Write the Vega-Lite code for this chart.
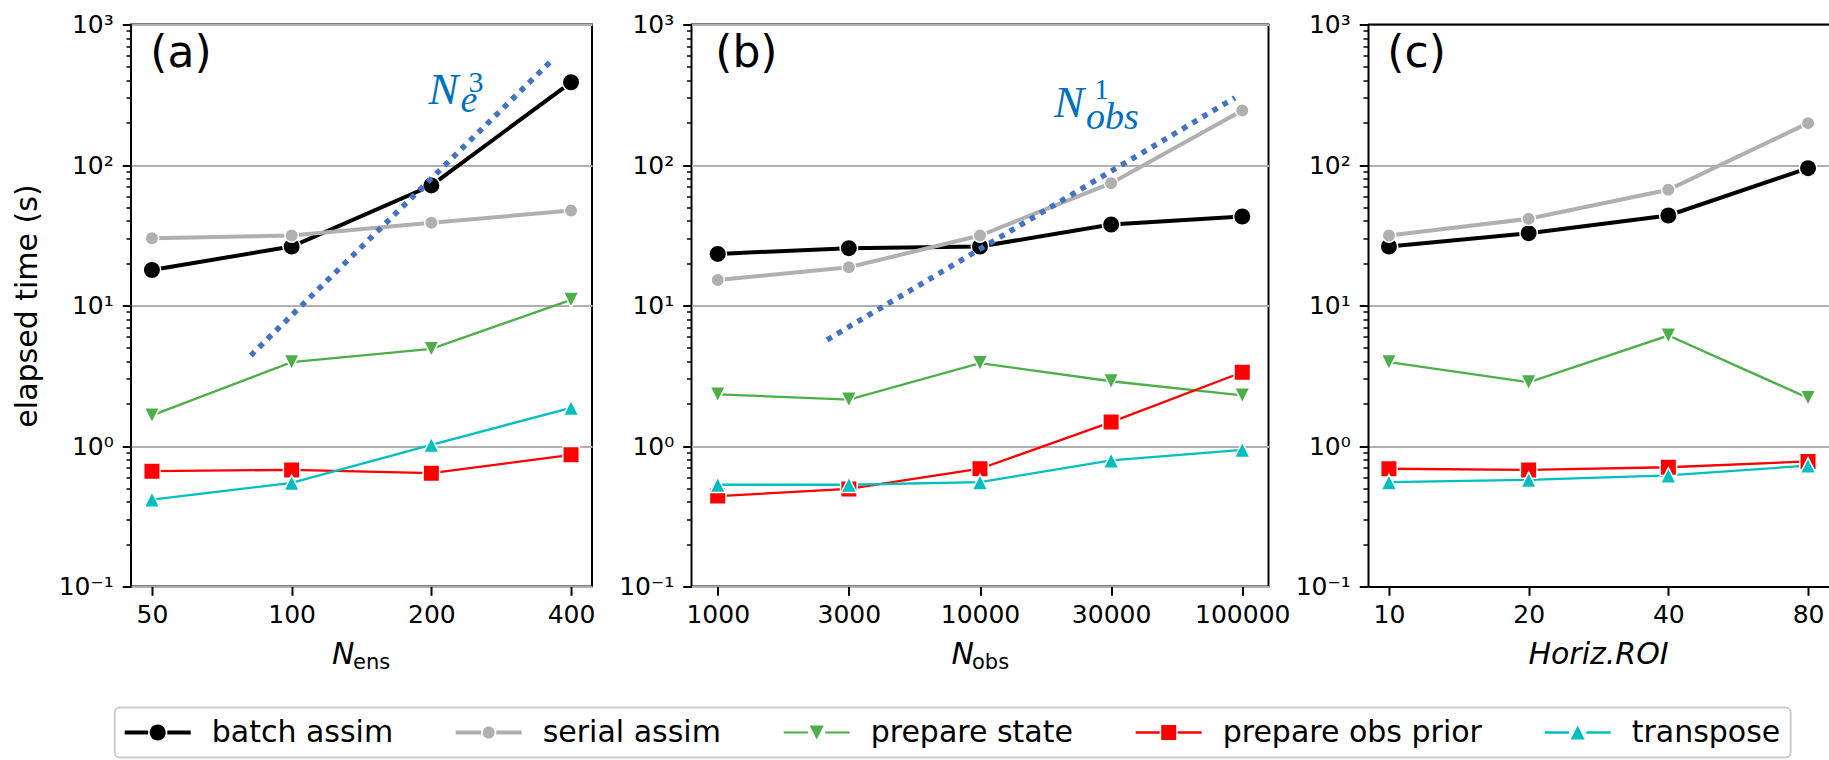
{
  "$schema": "https://vega.github.io/schema/vega-lite/v6.json",
  "background": "white",
  "padding": {"left": 11, "top": 11.5, "right": 0, "bottom": 0},
  "bounds": "flush",
  "spacing": 99.5,
  "datasets": {
    "times": [
      {"panel": "a", "series": "batch assim", "i": 0, "x": 50, "value": 17.9},
      {"panel": "a", "series": "batch assim", "i": 1, "x": 100, "value": 26.3},
      {"panel": "a", "series": "batch assim", "i": 2, "x": 200, "value": 71.5},
      {"panel": "a", "series": "batch assim", "i": 3, "x": 400, "value": 388},
      {"panel": "a", "series": "serial assim", "i": 0, "x": 50, "value": 30.1},
      {"panel": "a", "series": "serial assim", "i": 1, "x": 100, "value": 31.5},
      {"panel": "a", "series": "serial assim", "i": 2, "x": 200, "value": 38.8},
      {"panel": "a", "series": "serial assim", "i": 3, "x": 400, "value": 47.4},
      {"panel": "a", "series": "prepare state", "i": 0, "x": 50, "value": 1.65},
      {"panel": "a", "series": "prepare state", "i": 1, "x": 100, "value": 3.95},
      {"panel": "a", "series": "prepare state", "i": 2, "x": 200, "value": 4.91},
      {"panel": "a", "series": "prepare state", "i": 3, "x": 400, "value": 10.97},
      {"panel": "a", "series": "prepare obs prior", "i": 0, "x": 50, "value": 0.662},
      {"panel": "a", "series": "prepare obs prior", "i": 1, "x": 100, "value": 0.676},
      {"panel": "a", "series": "prepare obs prior", "i": 2, "x": 200, "value": 0.641},
      {"panel": "a", "series": "prepare obs prior", "i": 3, "x": 400, "value": 0.865},
      {"panel": "a", "series": "transpose", "i": 0, "x": 50, "value": 0.416},
      {"panel": "a", "series": "transpose", "i": 1, "x": 100, "value": 0.547},
      {"panel": "a", "series": "transpose", "i": 2, "x": 200, "value": 1.02},
      {"panel": "a", "series": "transpose", "i": 3, "x": 400, "value": 1.87},

      {"panel": "b", "series": "batch assim", "i": 0, "x": 1000, "value": 23.3},
      {"panel": "b", "series": "batch assim", "i": 1, "x": 3000, "value": 25.6},
      {"panel": "b", "series": "batch assim", "i": 2, "x": 10000, "value": 26.3},
      {"panel": "b", "series": "batch assim", "i": 3, "x": 30000, "value": 37.7},
      {"panel": "b", "series": "batch assim", "i": 4, "x": 100000, "value": 43.0},
      {"panel": "b", "series": "serial assim", "i": 0, "x": 1000, "value": 15.2},
      {"panel": "b", "series": "serial assim", "i": 1, "x": 3000, "value": 18.7},
      {"panel": "b", "series": "serial assim", "i": 2, "x": 10000, "value": 31.5},
      {"panel": "b", "series": "serial assim", "i": 3, "x": 30000, "value": 74.2},
      {"panel": "b", "series": "serial assim", "i": 4, "x": 100000, "value": 244},
      {"panel": "b", "series": "prepare state", "i": 0, "x": 1000, "value": 2.33},
      {"panel": "b", "series": "prepare state", "i": 1, "x": 3000, "value": 2.14},
      {"panel": "b", "series": "prepare state", "i": 2, "x": 10000, "value": 3.89},
      {"panel": "b", "series": "prepare state", "i": 3, "x": 30000, "value": 2.89},
      {"panel": "b", "series": "prepare state", "i": 4, "x": 100000, "value": 2.29},
      {"panel": "b", "series": "prepare obs prior", "i": 0, "x": 1000, "value": 0.44},
      {"panel": "b", "series": "prepare obs prior", "i": 1, "x": 3000, "value": 0.495},
      {"panel": "b", "series": "prepare obs prior", "i": 2, "x": 10000, "value": 0.689},
      {"panel": "b", "series": "prepare obs prior", "i": 3, "x": 30000, "value": 1.48},
      {"panel": "b", "series": "prepare obs prior", "i": 4, "x": 100000, "value": 3.35},
      {"panel": "b", "series": "transpose", "i": 0, "x": 1000, "value": 0.53},
      {"panel": "b", "series": "transpose", "i": 1, "x": 3000, "value": 0.53},
      {"panel": "b", "series": "transpose", "i": 2, "x": 10000, "value": 0.553},
      {"panel": "b", "series": "transpose", "i": 3, "x": 30000, "value": 0.789},
      {"panel": "b", "series": "transpose", "i": 4, "x": 100000, "value": 0.94},

      {"panel": "c", "series": "batch assim", "i": 0, "x": 10, "value": 26.3},
      {"panel": "c", "series": "batch assim", "i": 1, "x": 20, "value": 32.7},
      {"panel": "c", "series": "batch assim", "i": 2, "x": 40, "value": 43.7},
      {"panel": "c", "series": "batch assim", "i": 3, "x": 80, "value": 95.0},
      {"panel": "c", "series": "serial assim", "i": 0, "x": 10, "value": 31.5},
      {"panel": "c", "series": "serial assim", "i": 1, "x": 20, "value": 41.4},
      {"panel": "c", "series": "serial assim", "i": 2, "x": 40, "value": 66.6},
      {"panel": "c", "series": "serial assim", "i": 3, "x": 80, "value": 198.6},
      {"panel": "c", "series": "prepare state", "i": 0, "x": 10, "value": 3.95},
      {"panel": "c", "series": "prepare state", "i": 1, "x": 20, "value": 2.84},
      {"panel": "c", "series": "prepare state", "i": 2, "x": 40, "value": 6.11},
      {"panel": "c", "series": "prepare state", "i": 3, "x": 80, "value": 2.20},
      {"panel": "c", "series": "prepare obs prior", "i": 0, "x": 10, "value": 0.689},
      {"panel": "c", "series": "prepare obs prior", "i": 1, "x": 20, "value": 0.676},
      {"panel": "c", "series": "prepare obs prior", "i": 2, "x": 40, "value": 0.706},
      {"panel": "c", "series": "prepare obs prior", "i": 3, "x": 80, "value": 0.776},
      {"panel": "c", "series": "transpose", "i": 0, "x": 10, "value": 0.553},
      {"panel": "c", "series": "transpose", "i": 1, "x": 20, "value": 0.574},
      {"panel": "c", "series": "transpose", "i": 2, "x": 40, "value": 0.617},
      {"panel": "c", "series": "transpose", "i": 3, "x": 80, "value": 0.726}
    ]
  },
  "hconcat": [
    {
      "width": 461,
      "height": 562,
      "layer": [
        {
          "data": {"name": "times"},
          "transform": [{"filter": "datum.panel === 'a'"}],
          "mark": {"type": "point", "filled": true, "opacity": 0},
          "encoding": {
            "x": {"field": "i", "type": "quantitative", "scale": {"domain": [-0.15, 3.15], "nice": false, "zero": false},
              "axis": {"values": [0, 1, 2, 3], "labelExpr": "['50','100','200','400'][datum.value]", "grid": false, "tickSize": 8.75, "tickWidth": 2, "labelPadding": 7, "title": null}},
            "y": {"field": "value", "type": "quantitative", "scale": {"type": "log", "domain": [0.1, 1000], "nice": false},
              "axis": {"values": [0.1,0.2,0.3,0.4,0.5,0.6,0.7,0.8,0.9,1,2,3,4,5,6,7,8,9,10,20,30,40,50,60,70,80,90,100,200,300,400,500,600,700,800,900,1000],
                "labelExpr": "datum.value==1000?'10³':datum.value==100?'10²':datum.value==10?'10¹':datum.value==1?'10⁰':datum.value==0.1?'10⁻¹':''",
                "grid": true, "gridColor": "#b0b0b0", "gridWidth": 2,
                "gridOpacity": {"condition": {"test": "datum.value==0.1||datum.value==1||datum.value==10||datum.value==100||datum.value==1000", "value": 1}, "value": 0},
                "tickSize": {"condition": {"test": "datum.value==0.1||datum.value==1||datum.value==10||datum.value==100||datum.value==1000", "value": 8.75}, "value": 5},
                "tickWidth": {"condition": {"test": "datum.value==0.1||datum.value==1||datum.value==10||datum.value==100||datum.value==1000", "value": 2}, "value": 1.5},
                "labelPadding": 9, "title": "elapsed time (s)", "titlePadding": 16}},
            "color": {"field": "series", "type": "nominal", "scale": {"domain": ["batch assim", "serial assim", "prepare state", "prepare obs prior", "transpose"], "range": ["#000000", "#b0b0b0", "#4daf4a", "#ff0000", "#00bfbf"]},
              "legend": {"title": null, "orient": "none", "legendX": -16.3, "legendY": 683, "direction": "horizontal", "columns": 5,
                "symbolSize": 900, "symbolOffset": 18, "labelOffset": 39, "symbolStrokeWidth": 0, "labelFont": "DejaVu Sans", "labelFontSize": 30, "labelColor": "black", "labelLimit": 600, "columnPadding": 62,
                "encode": {"symbols": {"update": {
                  "shape": {"signal": "datum.value==='batch assim'?'M-2.2,-0.133H-0.64V0.133H-2.2ZM0.64,-0.133H2.2V0.133H0.64ZM0.533,0A0.533,0.533,0,1,1,-0.533,0A0.533,0.533,0,1,1,0.533,0Z':datum.value==='serial assim'?'M-2.2,-0.133H-0.5V0.133H-2.2ZM0.5,-0.133H2.2V0.133H0.5ZM0.4,0A0.4,0.4,0,1,1,-0.4,0A0.4,0.4,0,1,1,0.4,0Z':datum.value==='prepare state'?'M-2.2,-0.073H-0.57V0.073H-2.2ZM0.57,-0.073H2.2V0.073H0.57ZM-0.467,-0.467L0.467,-0.467L0,0.467Z':datum.value==='prepare obs prior'?'M-2.2,-0.08H-0.6V0.08H-2.2ZM0.6,-0.08H2.2V0.08H0.6ZM-0.5,-0.5H0.5V0.5H-0.5Z':'M-2.2,-0.08H-0.57V0.08H-2.2ZM0.57,-0.08H2.2V0.08H0.57ZM0,-0.467L0.467,0.467L-0.467,0.467Z'"},
                  "fill": {"scale": "color", "field": "value"},
                  "stroke": {"value": "transparent"}, "strokeWidth": {"value": 0}, "size": {"value": 900}, "opacity": {"value": 1}, "fillOpacity": {"value": 1}}}}}}
          }
        },
        {
          "data": {"name": "times"},
          "transform": [{"filter": "datum.panel === 'a' && (datum.series === 'batch assim' || datum.series === 'serial assim')"}],
          "mark": {"type": "line", "strokeWidth": 4},
          "encoding": {"x": {"field": "i", "type": "quantitative"}, "y": {"field": "value", "type": "quantitative"}, "color": {"field": "series", "type": "nominal"}}
        },
        {
          "data": {"name": "times"},
          "transform": [{"filter": "datum.panel === 'a' && datum.series !== 'batch assim' && datum.series !== 'serial assim'"}],
          "mark": {"type": "line", "strokeWidth": 2.3},
          "encoding": {"x": {"field": "i", "type": "quantitative"}, "y": {"field": "value", "type": "quantitative"}, "color": {"field": "series", "type": "nominal"}}
        },
        {
          "data": {"name": "times"},
          "transform": [{"filter": "datum.panel === 'a' && datum.series === 'batch assim'"}],
          "mark": {"type": "point", "filled": true, "opacity": 1, "stroke": "white", "strokeWidth": 1.5, "shape": "circle", "size": 306},
          "encoding": {"x": {"field": "i", "type": "quantitative"}, "y": {"field": "value", "type": "quantitative"}, "color": {"field": "series", "type": "nominal"}}
        },
        {
          "data": {"name": "times"},
          "transform": [{"filter": "datum.panel === 'a' && datum.series === 'serial assim'"}],
          "mark": {"type": "point", "filled": true, "opacity": 1, "stroke": "white", "strokeWidth": 1.5, "shape": "circle", "size": 182},
          "encoding": {"x": {"field": "i", "type": "quantitative"}, "y": {"field": "value", "type": "quantitative"}, "color": {"field": "series", "type": "nominal"}}
        },
        {
          "data": {"name": "times"},
          "transform": [{"filter": "datum.panel === 'a' && datum.series === 'prepare state'"}],
          "mark": {"type": "point", "filled": true, "opacity": 1, "stroke": "white", "strokeWidth": 1.5, "shape": "M0,1L-1,-1L1,-1Z", "size": 240},
          "encoding": {"x": {"field": "i", "type": "quantitative"}, "y": {"field": "value", "type": "quantitative"}, "color": {"field": "series", "type": "nominal"}}
        },
        {
          "data": {"name": "times"},
          "transform": [{"filter": "datum.panel === 'a' && datum.series === 'prepare obs prior'"}],
          "mark": {"type": "point", "filled": true, "opacity": 1, "stroke": "white", "strokeWidth": 1.5, "shape": "square", "size": 272},
          "encoding": {"x": {"field": "i", "type": "quantitative"}, "y": {"field": "value", "type": "quantitative"}, "color": {"field": "series", "type": "nominal"}}
        },
        {
          "data": {"name": "times"},
          "transform": [{"filter": "datum.panel === 'a' && datum.series === 'transpose'"}],
          "mark": {"type": "point", "filled": true, "opacity": 1, "stroke": "white", "strokeWidth": 1.5, "shape": "M0,-1L-1,1L1,1Z", "size": 240},
          "encoding": {"x": {"field": "i", "type": "quantitative"}, "y": {"field": "value", "type": "quantitative"}, "color": {"field": "series", "type": "nominal"}}
        },
        {
          "data": {"values": [{"i": 0.707, "value": 4.41}, {"i": 2.869, "value": 563.5}]},
          "mark": {"type": "line", "color": "#4472C4", "strokeWidth": 5.5, "strokeDash": [5.5, 6.3], "strokeCap": "butt"},
          "encoding": {"x": {"field": "i", "type": "quantitative"}, "y": {"field": "value", "type": "quantitative"}}
        },
        {
          "data": {"values": [{}]},
          "mark": {"type": "text", "text": "N", "font": "Liberation Serif", "fontStyle": "italic", "fontSize": 45, "color": "#0070C0", "align": "left", "baseline": "alphabetic"},
          "encoding": {"x": {"datum": 1.98}, "y": {"datum": 272.6}}
        },
        {
          "data": {"values": [{}]},
          "mark": {"type": "text", "text": "3", "font": "Liberation Serif", "fontSize": 30, "color": "#0070C0", "align": "left", "baseline": "alphabetic", "dx": 40, "dy": -12},
          "encoding": {"x": {"datum": 1.98}, "y": {"datum": 272.6}}
        },
        {
          "data": {"values": [{}]},
          "mark": {"type": "text", "text": "e", "font": "Liberation Serif", "fontStyle": "italic", "fontSize": 38, "color": "#0070C0", "align": "left", "baseline": "alphabetic", "dx": 32, "dy": 8.5},
          "encoding": {"x": {"datum": 1.98}, "y": {"datum": 272.6}}
        },
        {
          "data": {"values": [{}]},
          "mark": {"type": "text", "text": "(a)", "font": "DejaVu Sans", "fontSize": 44, "color": "black", "align": "left", "baseline": "alphabetic"},
          "encoding": {"x": {"datum": -0.012}, "y": {"datum": 502}}
        },
        {
          "data": {"values": [{}]},
          "mark": {"type": "text", "text": "N", "font": "DejaVu Sans", "fontStyle": "italic", "fontSize": 30, "color": "black", "align": "left", "baseline": "alphabetic", "dx": -29.5},
          "encoding": {"x": {"datum": 1.5}, "y": {"datum": 0.0283}}
        },
        {
          "data": {"values": [{}]},
          "mark": {"type": "text", "text": "ens", "font": "DejaVu Sans", "fontSize": 21, "color": "black", "align": "left", "baseline": "alphabetic", "dx": -8.5, "dy": 5},
          "encoding": {"x": {"datum": 1.5}, "y": {"datum": 0.0283}}
        }
      ]
    },
    {
      "width": 577,
      "height": 562,
      "layer": [
        {
          "data": {"name": "times"},
          "transform": [{"filter": "datum.panel === 'b'"}],
          "mark": {"type": "point", "filled": true, "opacity": 0},
          "encoding": {
            "x": {"field": "i", "type": "quantitative", "scale": {"domain": [-0.2, 4.2], "nice": false, "zero": false},
              "axis": {"values": [0, 1, 2, 3, 4], "labelExpr": "['1000','3000','10000','30000','100000'][datum.value]", "grid": false, "tickSize": 8.75, "tickWidth": 2, "labelPadding": 7, "title": null}},
            "y": {"field": "value", "type": "quantitative", "scale": {"type": "log", "domain": [0.1, 1000], "nice": false},
              "axis": {"values": [0.1,0.2,0.3,0.4,0.5,0.6,0.7,0.8,0.9,1,2,3,4,5,6,7,8,9,10,20,30,40,50,60,70,80,90,100,200,300,400,500,600,700,800,900,1000],
                "labelExpr": "datum.value==1000?'10³':datum.value==100?'10²':datum.value==10?'10¹':datum.value==1?'10⁰':datum.value==0.1?'10⁻¹':''",
                "grid": true, "gridColor": "#b0b0b0", "gridWidth": 2,
                "gridOpacity": {"condition": {"test": "datum.value==0.1||datum.value==1||datum.value==10||datum.value==100||datum.value==1000", "value": 1}, "value": 0},
                "tickSize": {"condition": {"test": "datum.value==0.1||datum.value==1||datum.value==10||datum.value==100||datum.value==1000", "value": 8.75}, "value": 5},
                "tickWidth": {"condition": {"test": "datum.value==0.1||datum.value==1||datum.value==10||datum.value==100||datum.value==1000", "value": 2}, "value": 1.5},
                "labelPadding": 9, "title": null}},
            "color": {"field": "series", "type": "nominal", "scale": {"domain": ["batch assim", "serial assim", "prepare state", "prepare obs prior", "transpose"], "range": ["#000000", "#b0b0b0", "#4daf4a", "#ff0000", "#00bfbf"]},
              "legend": {"title": null, "orient": "none", "legendX": -16.3, "legendY": 683, "direction": "horizontal", "columns": 5,
                "symbolSize": 900, "symbolOffset": 18, "labelOffset": 39, "symbolStrokeWidth": 0, "labelFont": "DejaVu Sans", "labelFontSize": 30, "labelColor": "black", "labelLimit": 600, "columnPadding": 62,
                "encode": {"symbols": {"update": {
                  "shape": {"signal": "datum.value==='batch assim'?'M-2.2,-0.133H-0.64V0.133H-2.2ZM0.64,-0.133H2.2V0.133H0.64ZM0.533,0A0.533,0.533,0,1,1,-0.533,0A0.533,0.533,0,1,1,0.533,0Z':datum.value==='serial assim'?'M-2.2,-0.133H-0.5V0.133H-2.2ZM0.5,-0.133H2.2V0.133H0.5ZM0.4,0A0.4,0.4,0,1,1,-0.4,0A0.4,0.4,0,1,1,0.4,0Z':datum.value==='prepare state'?'M-2.2,-0.073H-0.57V0.073H-2.2ZM0.57,-0.073H2.2V0.073H0.57ZM-0.467,-0.467L0.467,-0.467L0,0.467Z':datum.value==='prepare obs prior'?'M-2.2,-0.08H-0.6V0.08H-2.2ZM0.6,-0.08H2.2V0.08H0.6ZM-0.5,-0.5H0.5V0.5H-0.5Z':'M-2.2,-0.08H-0.57V0.08H-2.2ZM0.57,-0.08H2.2V0.08H0.57ZM0,-0.467L0.467,0.467L-0.467,0.467Z'"},
                  "fill": {"scale": "color", "field": "value"},
                  "stroke": {"value": "transparent"}, "strokeWidth": {"value": 0}, "size": {"value": 900}, "opacity": {"value": 1}, "fillOpacity": {"value": 1}}}}}}
          }
        },
        {
          "data": {"name": "times"},
          "transform": [{"filter": "datum.panel === 'b' && (datum.series === 'batch assim' || datum.series === 'serial assim')"}],
          "mark": {"type": "line", "strokeWidth": 4},
          "encoding": {"x": {"field": "i", "type": "quantitative"}, "y": {"field": "value", "type": "quantitative"}, "color": {"field": "series", "type": "nominal"}}
        },
        {
          "data": {"name": "times"},
          "transform": [{"filter": "datum.panel === 'b' && datum.series !== 'batch assim' && datum.series !== 'serial assim'"}],
          "mark": {"type": "line", "strokeWidth": 2.3},
          "encoding": {"x": {"field": "i", "type": "quantitative"}, "y": {"field": "value", "type": "quantitative"}, "color": {"field": "series", "type": "nominal"}}
        },
        {
          "data": {"name": "times"},
          "transform": [{"filter": "datum.panel === 'b' && datum.series === 'batch assim'"}],
          "mark": {"type": "point", "filled": true, "opacity": 1, "stroke": "white", "strokeWidth": 1.5, "shape": "circle", "size": 306},
          "encoding": {"x": {"field": "i", "type": "quantitative"}, "y": {"field": "value", "type": "quantitative"}, "color": {"field": "series", "type": "nominal"}}
        },
        {
          "data": {"name": "times"},
          "transform": [{"filter": "datum.panel === 'b' && datum.series === 'serial assim'"}],
          "mark": {"type": "point", "filled": true, "opacity": 1, "stroke": "white", "strokeWidth": 1.5, "shape": "circle", "size": 182},
          "encoding": {"x": {"field": "i", "type": "quantitative"}, "y": {"field": "value", "type": "quantitative"}, "color": {"field": "series", "type": "nominal"}}
        },
        {
          "data": {"name": "times"},
          "transform": [{"filter": "datum.panel === 'b' && datum.series === 'prepare state'"}],
          "mark": {"type": "point", "filled": true, "opacity": 1, "stroke": "white", "strokeWidth": 1.5, "shape": "M0,1L-1,-1L1,-1Z", "size": 240},
          "encoding": {"x": {"field": "i", "type": "quantitative"}, "y": {"field": "value", "type": "quantitative"}, "color": {"field": "series", "type": "nominal"}}
        },
        {
          "data": {"name": "times"},
          "transform": [{"filter": "datum.panel === 'b' && datum.series === 'prepare obs prior'"}],
          "mark": {"type": "point", "filled": true, "opacity": 1, "stroke": "white", "strokeWidth": 1.5, "shape": "square", "size": 272},
          "encoding": {"x": {"field": "i", "type": "quantitative"}, "y": {"field": "value", "type": "quantitative"}, "color": {"field": "series", "type": "nominal"}}
        },
        {
          "data": {"name": "times"},
          "transform": [{"filter": "datum.panel === 'b' && datum.series === 'transpose'"}],
          "mark": {"type": "point", "filled": true, "opacity": 1, "stroke": "white", "strokeWidth": 1.5, "shape": "M0,-1L-1,1L1,1Z", "size": 240},
          "encoding": {"x": {"field": "i", "type": "quantitative"}, "y": {"field": "value", "type": "quantitative"}, "color": {"field": "series", "type": "nominal"}}
        },
        {
          "data": {"values": [{"i": 0.834, "value": 5.70}, {"i": 3.944, "value": 300.9}]},
          "mark": {"type": "line", "color": "#4472C4", "strokeWidth": 5.5, "strokeDash": [5.5, 6.3], "strokeCap": "butt"},
          "encoding": {"x": {"field": "i", "type": "quantitative"}, "y": {"field": "value", "type": "quantitative"}}
        },
        {
          "data": {"values": [{}]},
          "mark": {"type": "text", "text": "N", "font": "Liberation Serif", "fontStyle": "italic", "fontSize": 45, "color": "#0070C0", "align": "left", "baseline": "alphabetic"},
          "encoding": {"x": {"datum": 2.565}, "y": {"datum": 218.8}}
        },
        {
          "data": {"values": [{}]},
          "mark": {"type": "text", "text": "1", "font": "Liberation Serif", "fontSize": 30, "color": "#0070C0", "align": "left", "baseline": "alphabetic", "dx": 40, "dy": -18},
          "encoding": {"x": {"datum": 2.565}, "y": {"datum": 218.8}}
        },
        {
          "data": {"values": [{}]},
          "mark": {"type": "text", "text": "obs", "font": "Liberation Serif", "fontStyle": "italic", "fontSize": 38, "color": "#0070C0", "align": "left", "baseline": "alphabetic", "dx": 32, "dy": 12},
          "encoding": {"x": {"datum": 2.565}, "y": {"datum": 218.8}}
        },
        {
          "data": {"values": [{}]},
          "mark": {"type": "text", "text": "(b)", "font": "DejaVu Sans", "fontSize": 44, "color": "black", "align": "left", "baseline": "alphabetic"},
          "encoding": {"x": {"datum": -0.019}, "y": {"datum": 502}}
        },
        {
          "data": {"values": [{}]},
          "mark": {"type": "text", "text": "N", "font": "DejaVu Sans", "fontStyle": "italic", "fontSize": 30, "color": "black", "align": "left", "baseline": "alphabetic", "dx": -28.5},
          "encoding": {"x": {"datum": 2}, "y": {"datum": 0.0283}}
        },
        {
          "data": {"values": [{}]},
          "mark": {"type": "text", "text": "obs", "font": "DejaVu Sans", "fontSize": 21, "color": "black", "align": "left", "baseline": "alphabetic", "dx": -8, "dy": 5},
          "encoding": {"x": {"datum": 2}, "y": {"datum": 0.0283}}
        }
      ]
    },
    {
      "width": 461,
      "height": 562,
      "view": {"stroke": "transparent"},
      "layer": [
        {
          "data": {"name": "times"},
          "transform": [{"filter": "datum.panel === 'c'"}],
          "mark": {"type": "point", "filled": true, "opacity": 0},
          "encoding": {
            "x": {"field": "i", "type": "quantitative", "scale": {"domain": [-0.15, 3.15], "nice": false, "zero": false},
              "axis": {"values": [0, 1, 2, 3], "labelExpr": "['10','20','40','80'][datum.value]", "grid": false, "tickSize": 8.75, "tickWidth": 2, "labelPadding": 7, "title": null, "domain": true, "domainColor": "black", "domainWidth": 2}},
            "y": {"field": "value", "type": "quantitative", "scale": {"type": "log", "domain": [0.1, 1000], "nice": false},
              "axis": {"values": [0.1,0.2,0.3,0.4,0.5,0.6,0.7,0.8,0.9,1,2,3,4,5,6,7,8,9,10,20,30,40,50,60,70,80,90,100,200,300,400,500,600,700,800,900,1000],
                "labelExpr": "datum.value==1000?'10³':datum.value==100?'10²':datum.value==10?'10¹':datum.value==1?'10⁰':datum.value==0.1?'10⁻¹':''",
                "grid": true, "gridColor": "#b0b0b0", "gridWidth": 2,
                "gridOpacity": {"condition": {"test": "datum.value==0.1||datum.value==1||datum.value==10||datum.value==100||datum.value==1000", "value": 1}, "value": 0},
                "tickSize": {"condition": {"test": "datum.value==0.1||datum.value==1||datum.value==10||datum.value==100||datum.value==1000", "value": 8.75}, "value": 5},
                "tickWidth": {"condition": {"test": "datum.value==0.1||datum.value==1||datum.value==10||datum.value==100||datum.value==1000", "value": 2}, "value": 1.5},
                "labelPadding": 9, "title": null, "domain": true, "domainColor": "black", "domainWidth": 2}},
            "color": {"field": "series", "type": "nominal", "scale": {"domain": ["batch assim", "serial assim", "prepare state", "prepare obs prior", "transpose"], "range": ["#000000", "#b0b0b0", "#4daf4a", "#ff0000", "#00bfbf"]},
              "legend": {"title": null, "orient": "none", "legendX": -16.3, "legendY": 683, "direction": "horizontal", "columns": 5,
                "symbolSize": 900, "symbolOffset": 18, "labelOffset": 39, "symbolStrokeWidth": 0, "labelFont": "DejaVu Sans", "labelFontSize": 30, "labelColor": "black", "labelLimit": 600, "columnPadding": 62,
                "encode": {"symbols": {"update": {
                  "shape": {"signal": "datum.value==='batch assim'?'M-2.2,-0.133H-0.64V0.133H-2.2ZM0.64,-0.133H2.2V0.133H0.64ZM0.533,0A0.533,0.533,0,1,1,-0.533,0A0.533,0.533,0,1,1,0.533,0Z':datum.value==='serial assim'?'M-2.2,-0.133H-0.5V0.133H-2.2ZM0.5,-0.133H2.2V0.133H0.5ZM0.4,0A0.4,0.4,0,1,1,-0.4,0A0.4,0.4,0,1,1,0.4,0Z':datum.value==='prepare state'?'M-2.2,-0.073H-0.57V0.073H-2.2ZM0.57,-0.073H2.2V0.073H0.57ZM-0.467,-0.467L0.467,-0.467L0,0.467Z':datum.value==='prepare obs prior'?'M-2.2,-0.08H-0.6V0.08H-2.2ZM0.6,-0.08H2.2V0.08H0.6ZM-0.5,-0.5H0.5V0.5H-0.5Z':'M-2.2,-0.08H-0.57V0.08H-2.2ZM0.57,-0.08H2.2V0.08H0.57ZM0,-0.467L0.467,0.467L-0.467,0.467Z'"},
                  "fill": {"scale": "color", "field": "value"},
                  "stroke": {"value": "transparent"}, "strokeWidth": {"value": 0}, "size": {"value": 900}, "opacity": {"value": 1}, "fillOpacity": {"value": 1}}}}}}
          }
        },
        {
          "data": {"name": "times"},
          "transform": [{"filter": "datum.panel === 'c' && (datum.series === 'batch assim' || datum.series === 'serial assim')"}],
          "mark": {"type": "line", "strokeWidth": 4},
          "encoding": {"x": {"field": "i", "type": "quantitative"}, "y": {"field": "value", "type": "quantitative"}, "color": {"field": "series", "type": "nominal"}}
        },
        {
          "data": {"name": "times"},
          "transform": [{"filter": "datum.panel === 'c' && datum.series !== 'batch assim' && datum.series !== 'serial assim'"}],
          "mark": {"type": "line", "strokeWidth": 2.3},
          "encoding": {"x": {"field": "i", "type": "quantitative"}, "y": {"field": "value", "type": "quantitative"}, "color": {"field": "series", "type": "nominal"}}
        },
        {
          "data": {"name": "times"},
          "transform": [{"filter": "datum.panel === 'c' && datum.series === 'batch assim'"}],
          "mark": {"type": "point", "filled": true, "opacity": 1, "stroke": "white", "strokeWidth": 1.5, "shape": "circle", "size": 306},
          "encoding": {"x": {"field": "i", "type": "quantitative"}, "y": {"field": "value", "type": "quantitative"}, "color": {"field": "series", "type": "nominal"}}
        },
        {
          "data": {"name": "times"},
          "transform": [{"filter": "datum.panel === 'c' && datum.series === 'serial assim'"}],
          "mark": {"type": "point", "filled": true, "opacity": 1, "stroke": "white", "strokeWidth": 1.5, "shape": "circle", "size": 182},
          "encoding": {"x": {"field": "i", "type": "quantitative"}, "y": {"field": "value", "type": "quantitative"}, "color": {"field": "series", "type": "nominal"}}
        },
        {
          "data": {"name": "times"},
          "transform": [{"filter": "datum.panel === 'c' && datum.series === 'prepare state'"}],
          "mark": {"type": "point", "filled": true, "opacity": 1, "stroke": "white", "strokeWidth": 1.5, "shape": "M0,1L-1,-1L1,-1Z", "size": 240},
          "encoding": {"x": {"field": "i", "type": "quantitative"}, "y": {"field": "value", "type": "quantitative"}, "color": {"field": "series", "type": "nominal"}}
        },
        {
          "data": {"name": "times"},
          "transform": [{"filter": "datum.panel === 'c' && datum.series === 'prepare obs prior'"}],
          "mark": {"type": "point", "filled": true, "opacity": 1, "stroke": "white", "strokeWidth": 1.5, "shape": "square", "size": 272},
          "encoding": {"x": {"field": "i", "type": "quantitative"}, "y": {"field": "value", "type": "quantitative"}, "color": {"field": "series", "type": "nominal"}}
        },
        {
          "data": {"name": "times"},
          "transform": [{"filter": "datum.panel === 'c' && datum.series === 'transpose'"}],
          "mark": {"type": "point", "filled": true, "opacity": 1, "stroke": "white", "strokeWidth": 1.5, "shape": "M0,-1L-1,1L1,1Z", "size": 240},
          "encoding": {"x": {"field": "i", "type": "quantitative"}, "y": {"field": "value", "type": "quantitative"}, "color": {"field": "series", "type": "nominal"}}
        },
        {
          "data": {"values": [{}]},
          "mark": {"type": "rule", "color": "black", "strokeWidth": 2},
          "encoding": {"y": {"datum": 1000}}
        },
        {
          "data": {"values": [{}]},
          "mark": {"type": "text", "text": "(c)", "font": "DejaVu Sans", "fontSize": 44, "color": "black", "align": "left", "baseline": "alphabetic"},
          "encoding": {"x": {"datum": -0.012}, "y": {"datum": 502}}
        },
        {
          "data": {"values": [{}]},
          "mark": {"type": "text", "text": "Horiz.ROI", "font": "DejaVu Sans", "fontStyle": "italic", "fontSize": 30, "color": "black", "align": "center", "baseline": "alphabetic"},
          "encoding": {"x": {"datum": 1.5}, "y": {"datum": 0.0283}}
        }
      ]
    }
  ],
  "config": {
    "font": "DejaVu Sans",
    "view": {"stroke": "black", "strokeWidth": 2},
    "axis": {"labelFont": "DejaVu Sans", "labelFontSize": 25, "labelColor": "black", "tickColor": "black", "domain": false, "labelFlush": false, "labelOverlap": false, "labelBound": false, "titleFont": "DejaVu Sans", "titleFontSize": 30, "titleFontWeight": "normal", "titleColor": "black"},
    "legend": {"strokeColor": "#cccccc", "strokeWidth": 2, "cornerRadius": 5, "fillColor": "white", "padding": 10}
  }
}
